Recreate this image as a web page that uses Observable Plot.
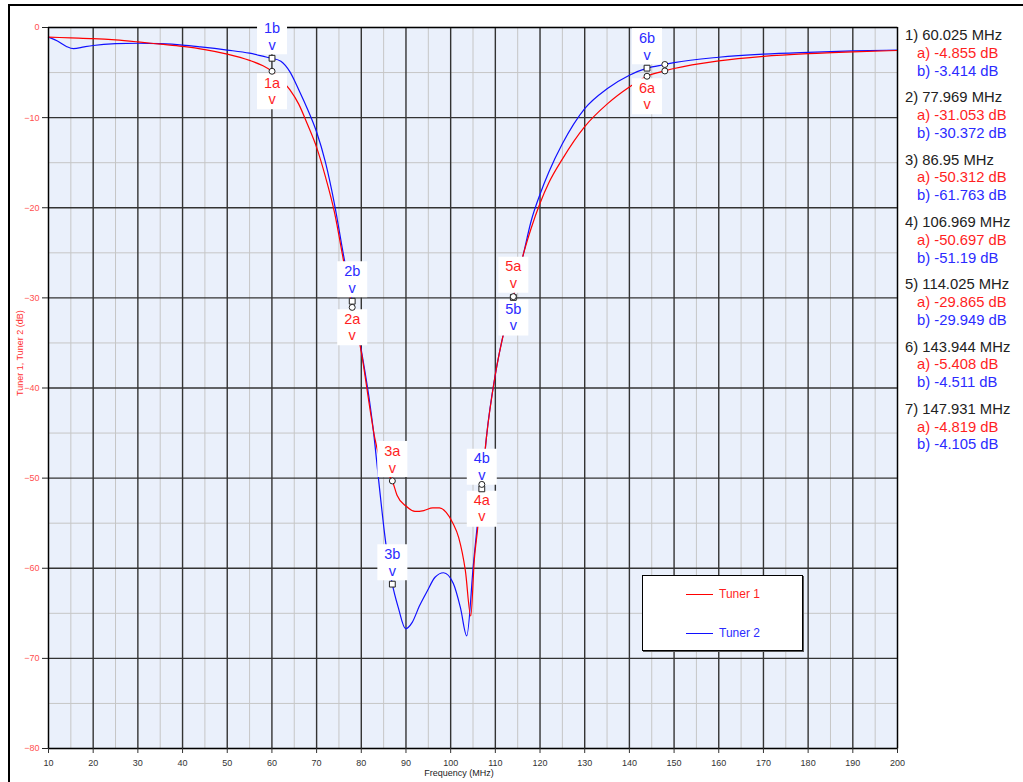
<!DOCTYPE html>
<html>
<head>
<meta charset="utf-8">
<script src="https://cdn.jsdelivr.net/npm/d3@7"></script>
<script src="https://cdn.jsdelivr.net/npm/@observablehq/plot@0.6"></script>
<style>
  html, body { margin: 0; padding: 0; background: #fff; overflow: hidden; }
  body { width: 1023px; height: 782px; position: relative; font-family: "Liberation Sans", Arial, sans-serif; }
  #outer { position: absolute; left: 8px; top: 4px; width: 1100px; height: 900px; border-left: 2px solid #000; border-top: 2px solid #000; }
  #chart { position: absolute; left: 0; top: 0; }
  .side { position: absolute; font-size: 14.8px; line-height: 18px; white-space: nowrap; }
  #legend { position: absolute; left: 642px; top: 575px; width: 159px; height: 74px; background: #fff; border: 1px solid #000; box-shadow: 1px 1px 0 #555; }
  .lg-line { position: absolute; height: 0; border-top: 1.4px solid; width: 27px; left: 43px; }
  .lg-text { position: absolute; left: 76px; font-size: 12px; line-height: 14px; }
</style>
</head>
<body>
<div id="outer"></div>
<div id="chart"></div>
<div id="side"></div>
<div id="legend"></div>
<script>
// ---- Data ----
const seriesNames = ["Tuner 1", "Tuner 2"];

const tuner1Freq = [10,15,20,25,30,35,40,45,50,55,58,60.025,62,64,66,68,70,72,74,76,77.969,80,82,83,84,85.5,86.95,88,90,92,94,96,97.5,99,100.5,101.8,103.3,104.5,105.3,106,106.969,108,110,112,114.025,116.3,118,120,122,125,130,135,140,143.944,147.931,150,160,170,180,190,200];
const tuner1Db = [-1.07,-1.15,-1.23,-1.38,-1.6,-1.85,-2.1,-2.45,-2.95,-3.65,-4.25,-4.855,-5.75,-6.9,-8.5,-10.8,-13.3,-16.6,-20.5,-25.8,-31.053,-36,-42.5,-45.5,-47.6,-49.3,-50.312,-51.9,-53.1,-53.7,-53.6,-53.3,-53.3,-53.8,-55,-56.6,-60.3,-65.3,-59,-55.8,-50.697,-45.5,-38.5,-33.6,-29.865,-25.1,-22.3,-19.5,-17.2,-14.6,-11,-8.5,-6.6,-5.408,-4.819,-4.55,-3.7,-3.2,-2.9,-2.7,-2.55];

const tuner2Freq = [10,12,14,15.6,18,20,25,30,35,40,44,50,55,58.9,60.025,62,64,66,68,70,72,74,76,77.969,80,82,82.7,83.9,85.4,86.95,88.3,89.9,91.4,93,94.8,96.5,98.4,100.6,102.2,103.6,105.1,105.9,106.969,108,110,112,114.025,116.3,118,120,122,125,130,135,140,143.944,147.931,150,160,170,180,190,200];
const tuner2Db = [-1.07,-1.5,-2.1,-2.35,-2.15,-2.0,-1.8,-1.75,-1.8,-1.95,-2.15,-2.5,-2.85,-3.3,-3.414,-3.75,-4.9,-6.9,-9.1,-11.6,-15,-19.6,-25.2,-30.372,-35.8,-42,-44.7,-50.3,-56.9,-61.763,-64.4,-66.7,-66,-64.2,-62.5,-61,-60.5,-61.7,-64.4,-67.5,-59.5,-55.5,-51.19,-45.5,-38.5,-33.6,-29.949,-25.1,-21.5,-18.5,-16,-12.9,-9,-6.8,-5.3,-4.511,-4.105,-3.9,-3.3,-2.95,-2.75,-2.6,-2.5];

const markerFreq = [60.025, 77.969, 86.95, 106.969, 114.025, 143.944, 147.931];
const markerA = [-4.855, -31.053, -50.312, -50.697, -29.865, -5.408, -4.819];
const markerB = [-3.414, -30.372, -61.763, -51.19, -29.949, -4.511, -4.105];
const labeledMarkers = 6;

const xMajorTicks = d3.range(10, 201, 10);
const xMinorTicks = d3.range(15, 200, 10);
const yMajorTicks = d3.range(-80, 1, 10);
const yMinorTicks = d3.range(-75, 0, 10);

const xLabel = "Frequency (MHz)";
const yLabel = "Tuner 1, Tuner 2 (dB)";

// ---- Styles / label layout ----
const RED = "#ff1f1f", BLUE = "#2b2bff";
const LINE_RED = "#ff0000", LINE_BLUE = "#1010ff";
// where each marker's labels sit relative to its points: [a, b]
const labelSide = [["below","above"],["below","above"],["above","above"],["below","above"],["above","below"],["below","above"]];

const t1 = tuner1Freq.map((f, i) => ({f, db: tuner1Db[i]}));
const t2 = tuner2Freq.map((f, i) => ({f, db: tuner2Db[i]}));

const above = [], below = [], points = [];
markerFreq.forEach((f, i) => {
  const a = {f, db: markerA[i], name: `${i + 1}a`, color: RED};
  const b = {f, db: markerB[i], name: `${i + 1}b`, color: BLUE};
  points.push({...a, sym: "circle"});
  points.push({...b, sym: i < labeledMarkers ? "square" : "circle"});
  if (i >= labeledMarkers) return;
  const lowest = Math.min(a.db, b.db);
  [[a, labelSide[i][0]], [b, labelSide[i][1]]].forEach(([p, side]) => {
    if (side === "above") above.push(p);
    else below.push({...p, db: lowest});
  });
});

const boxSymbol = { draw(ctx) { ctx.moveTo(-15, -18); ctx.lineTo(15, -18); ctx.lineTo(15, 18); ctx.lineTo(-15, 18); ctx.closePath(); } };

const chart = Plot.plot({
  width: 1023, height: 782,
  marginLeft: 48, marginRight: 126, marginTop: 27, marginBottom: 34,
  style: {background: "transparent", fontFamily: "'Liberation Sans', Arial, sans-serif", overflow: "visible"},
  x: {domain: [10, 200]},
  y: {domain: [-80, 0]},
  marks: [
    Plot.frame({fill: "#eaf0fb", stroke: null}),
    Plot.gridX(xMinorTicks, {stroke: "#c6c6c6", strokeOpacity: 1, strokeWidth: 1}),
    Plot.gridY(yMinorTicks, {stroke: "#c6c6c6", strokeOpacity: 1, strokeWidth: 1}),
    Plot.gridX(xMajorTicks, {stroke: "#333", strokeOpacity: 1, strokeWidth: 1.4}),
    Plot.gridY(yMajorTicks, {stroke: "#333", strokeOpacity: 1, strokeWidth: 1.4}),
    Plot.line(t2, {x: "f", y: "db", stroke: LINE_BLUE, strokeWidth: 1.2, curve: "monotone-x"}),
    Plot.line(t1, {x: "f", y: "db", stroke: LINE_RED, strokeWidth: 1.2, curve: "monotone-x"}),
    Plot.frame({stroke: "#000", strokeWidth: 1.2}),
    // label boxes
    Plot.dot(above, {x: "f", y: "db", symbol: boxSymbol, fill: "white", stroke: null, dy: -22}),
    Plot.dot(below, {x: "f", y: "db", symbol: boxSymbol, fill: "white", stroke: null, dy: 20}),
    Plot.text(above, {x: "f", y: "db", text: "name", fill: "color", fontSize: 14.5, dy: -30}),
    Plot.text(above, {x: "f", y: "db", text: () => "v", fill: "color", fontSize: 14.5, dy: -13}),
    Plot.text(below, {x: "f", y: "db", text: "name", fill: "color", fontSize: 14.5, dy: 12}),
    Plot.text(below, {x: "f", y: "db", text: () => "v", fill: "color", fontSize: 14.5, dy: 28}),
    Plot.dot(points, {x: "f", y: "db", symbol: "sym", r: d => d.sym === "square" ? 3 : 2.5, fill: "white", stroke: "#222", strokeWidth: 1}),
    // axes
    Plot.axisX(xMajorTicks, {tickSize: 5, tickPadding: 6, fontSize: 9, color: "#333", label: null}),
    Plot.axisY(yMajorTicks, {tickSize: 6, tickFormat: () => "", color: "#222", label: null}),
    Plot.axisY(yMajorTicks, {tickSize: 0, tickPadding: 9, fontSize: 9, color: "#ff5050", label: null}),
    Plot.text([xLabel], {text: d => d, frameAnchor: "bottom", dy: 27, dx: -14, fontSize: 9, fill: "#222"}),
    Plot.text([yLabel], {text: d => d, frameAnchor: "left", dx: -28, dy: 8, rotate: -90, fontSize: 9, fill: "#ff3030"})
  ]
});
document.getElementById("chart").appendChild(chart);

// ---- Right side marker readout ----
const side = document.getElementById("side");
markerFreq.forEach((f, i) => {
  const top0 = 35 + i * 62.3;
  const rows = [
    {text: `${i + 1}) ${f} MHz`, color: "#222", left: 905, cy: top0},
    {text: `a) ${markerA[i]} dB`, color: RED, left: 917, cy: top0 + 17.8},
    {text: `b) ${markerB[i]} dB`, color: BLUE, left: 917, cy: top0 + 35.6}
  ];
  rows.forEach(r => {
    const d = document.createElement("div");
    d.className = "side";
    d.textContent = r.text;
    d.style.color = r.color;
    d.style.left = r.left + "px";
    d.style.top = (r.cy - 9) + "px";
    side.appendChild(d);
  });
});

// ---- Legend ----
const legend = document.getElementById("legend");
[[seriesNames[0], LINE_RED, RED, 18], [seriesNames[1], LINE_BLUE, BLUE, 57]].forEach(([name, lc, tc, y]) => {
  const l = document.createElement("div");
  l.className = "lg-line"; l.style.borderTopColor = lc; l.style.top = y + "px";
  legend.appendChild(l);
  const t = document.createElement("div");
  t.className = "lg-text"; t.style.color = tc; t.style.top = (y - 7) + "px"; t.textContent = name;
  legend.appendChild(t);
});
</script>
</body>
</html>
